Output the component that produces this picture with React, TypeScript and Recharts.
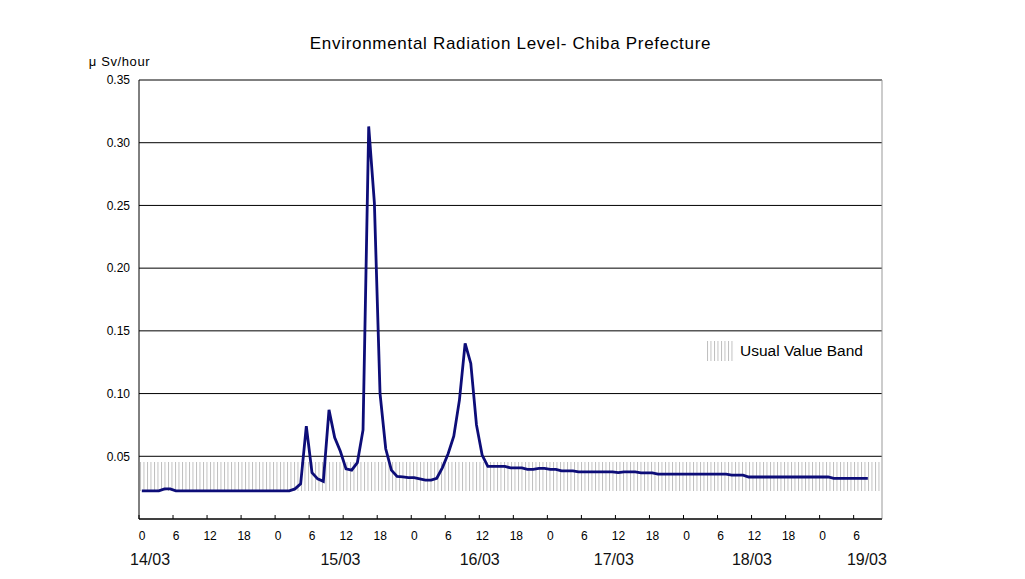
import {
  LineChart,
  Line,
  XAxis,
  YAxis,
  CartesianGrid,
  ReferenceArea,
  ReferenceLine,
  Legend,
  Label,
} from 'recharts'

// hourly readings from 14/03 00:00, µSv/h
const HOURLY = [
  0.0225, 0.0225, 0.0225, 0.0225, 0.024, 0.024,
  0.0225, 0.0225, 0.0225, 0.0225, 0.0225, 0.0225, 0.0225, 0.0225, 0.0225, 0.0225, 0.0225,
  0.0225, 0.0225, 0.0225, 0.0225, 0.0225, 0.0225, 0.0225, 0.0225, 0.0225, 0.0225,
  0.024, 0.028, 0.074, 0.037, 0.032, 0.030, 0.087, 0.065, 0.054, 0.040, 0.039, 0.045,
  0.071, 0.313, 0.252, 0.100, 0.056, 0.039, 0.034, 0.0335, 0.033, 0.033, 0.032, 0.031,
  0.031, 0.0325, 0.041, 0.052, 0.066, 0.095, 0.140, 0.124, 0.075, 0.051,
  0.042, 0.042, 0.042, 0.042, 0.0407, 0.0407, 0.0407, 0.0396, 0.0396, 0.0403, 0.0403,
  0.0396, 0.0396, 0.0383, 0.0383, 0.0383,
  0.0375, 0.0375, 0.0375, 0.0375, 0.0375, 0.0375, 0.0375, 0.037, 0.0375, 0.0375, 0.0375,
  0.0367, 0.0367, 0.0367,
  0.0357, 0.0357, 0.0357, 0.0357, 0.0357, 0.0357, 0.0357, 0.0357, 0.0357, 0.0357, 0.0357,
  0.0357, 0.0357,
  0.035, 0.035, 0.035,
  0.0335, 0.0335, 0.0335, 0.0335, 0.0335, 0.0335, 0.0335, 0.0335, 0.0335, 0.0335, 0.0335,
  0.0335, 0.0335, 0.0335, 0.0335,
  0.0324, 0.0324, 0.0324, 0.0324, 0.0324, 0.0324, 0.0324,
]

const HOUR_TICKS = [0, 6, 12, 18, 24, 30, 36, 42, 48, 54, 60, 66, 72, 78, 84, 90, 96, 102, 108, 114, 120, 126]
const DATE_LABELS = ['14/03', '15/03', '16/03', '17/03', '18/03', '19/03']
const DATE_AT = [1.9, 34.7, 58.7, 81.8, 105.6, 125.4]
const Y_TICKS = [0.05, 0.1, 0.15, 0.2, 0.25, 0.3, 0.35]
const USUAL_BAND = [0.0223, 0.0454]
const HOURS_SHOWN = 131

const FONT = '"Liberation Sans", Arial, sans-serif'

// each reading sits in the middle of its hour slot
const data = HOURLY.map((v, i) => ({ t: i + 0.5, v }))

function HourTick({ x, y, payload }: any) {
  return (
    <g>
      <line x1={x} x2={x} y1={y - 12} y2={y - 16} stroke="#000" />
      <text x={x + 3} y={y + 9} textAnchor="middle" fontSize={12} fontFamily={FONT} fill="#000">
        {payload.value % 24}
      </text>
    </g>
  )
}

function DateTick({ x, y, index }: any) {
  return (
    <text x={x} y={y + 12} textAnchor="middle" fontSize={16} fontFamily={FONT} fill="#111">
      {DATE_LABELS[index]}
    </text>
  )
}

function BandLegend() {
  return (
    <div style={{ display: 'flex', alignItems: 'center', fontFamily: FONT, fontSize: 15.5, color: '#000' }}>
      <svg width={27} height={20} style={{ marginRight: 6 }}>
        <rect width={27} height={20} fill="url(#usualHatch)" />
      </svg>
      Usual Value Band
    </div>
  )
}

export default function App() {
  return (
    <div style={{ position: 'absolute', left: 0, top: 0, width: 1025, height: 579, background: '#fff' }}>
      <div
        style={{
          position: 'absolute',
          top: 34,
          left: 0,
          width: 1021,
          textAlign: 'center',
          fontFamily: FONT,
          fontSize: 17,
          letterSpacing: 0.7,
          color: '#000',
        }}
      >
        Environmental Radiation Level- Chiba Prefecture
      </div>
      <LineChart width={1025} height={579} data={data} margin={{ top: 80, right: 143, bottom: 0, left: 0 }}>
        <defs>
          <pattern id="usualHatch" width={3.5} height={10} patternUnits="userSpaceOnUse">
            <line x1={0.5} x2={0.5} y1={0} y2={10} stroke="#aaa" strokeWidth={0.8} />
          </pattern>
        </defs>
        <CartesianGrid xAxisId="a_hour" vertical={false} stroke="#000" />
        <XAxis
          xAxisId="a_hour"
          dataKey="t"
          type="number"
          domain={[0, HOURS_SHOWN]}
          ticks={HOUR_TICKS}
          height={20}
          axisLine={{ stroke: '#000' }}
          tickLine={false}
          tickSize={0}
          tickMargin={12}
          tick={<HourTick />}
          interval={0}
        />
        <XAxis
          xAxisId="b_date"
          type="number"
          domain={[0, HOURS_SHOWN]}
          ticks={DATE_AT}
          height={40}
          axisLine={false}
          tickLine={false}
          tickSize={0}
          tickMargin={14}
          tick={<DateTick />}
          interval={0}
        />
        <YAxis
          type="number"
          domain={[0, 0.35]}
          ticks={Y_TICKS}
          width={139}
          axisLine={{ stroke: '#000' }}
          tickLine={false}
          tickSize={0}
          tickMargin={9}
          interval={0}
          tick={{ fontSize: 12, fill: '#000', fontFamily: FONT }}
          tickFormatter={(v: number) => v.toFixed(2)}
        >
          <Label
            value="μ Sv/hour"
            position="top"
            offset={14}
            dx={50}
            style={{ fontSize: 13, letterSpacing: 0.6, fill: '#000', fontFamily: FONT }}
          />
        </YAxis>
        <ReferenceArea
          xAxisId="a_hour"
          x1={0}
          x2={HOURS_SHOWN}
          y1={USUAL_BAND[0]}
          y2={USUAL_BAND[1]}
          fill="url(#usualHatch)"
          fillOpacity={1}
          stroke="none"
        />
        <ReferenceLine xAxisId="a_hour" x={HOURS_SHOWN} stroke="#999" />
        <Line
          xAxisId="a_hour"
          dataKey="v"
          type="linear"
          stroke="#0d0d78"
          strokeWidth={2.8}
          dot={false}
          isAnimationActive={false}
        />
        <Legend
          layout="horizontal"
          align="center"
          verticalAlign="middle"
          content={() => <BandLegend />}
          wrapperStyle={{ top: 341, left: 707, width: 'auto' }}
        />
      </LineChart>
    </div>
  )
}
